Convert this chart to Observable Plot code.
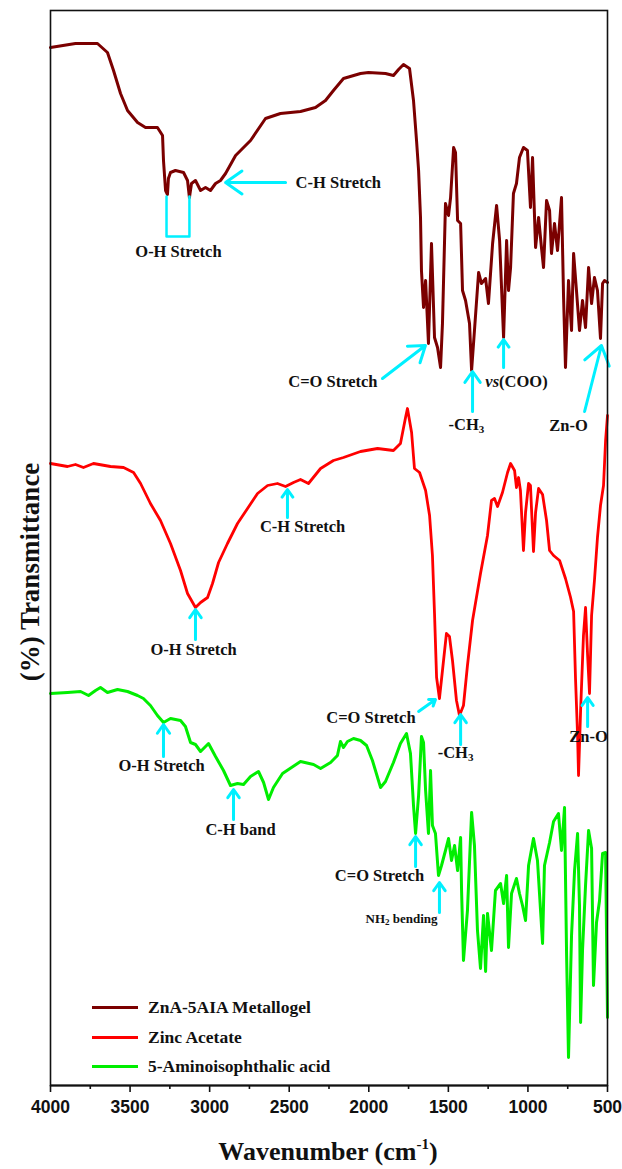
<!DOCTYPE html>
<html><head><meta charset="utf-8">
<script src="https://cdn.jsdelivr.net/npm/d3@7"></script>
<script src="https://cdn.jsdelivr.net/npm/@observablehq/plot@0.6"></script>
<style>
body{margin:0;background:#fff;}
#wrap{position:relative;width:622px;height:1169px;font-family:"Liberation Serif","Times New Roman",serif;color:#111;}
#wrap svg{position:absolute;left:0;top:0;}
.ov{position:absolute;font-weight:bold;white-space:nowrap;}
#ylab{font-size:27px;left:30px;top:572px;transform:translate(-50%,-50%) rotate(-90deg);}
#xlab{font-size:26px;left:328px;top:1152px;transform:translate(-50%,-50%);}
#xlab sup{font-size:15px;vertical-align:11px;line-height:0;}
.lg{position:absolute;left:92px;font-size:17.5px;font-weight:bold;white-space:nowrap;line-height:20px;}
.lg span.sw{display:inline-block;width:46px;height:3px;vertical-align:middle;margin-right:10px;position:relative;top:-1px;}
</style></head><body><div id="wrap"></div>
<script>
// Series: [wavenumber (cm-1), transmittance (offset, a.u.)]
const metallogel = [[4000,103.8],[3843,104.2],[3705,104.2],[3642,103.3],[3604,101.5],[3560,99.2],[3516,97.5],[3453,96.3],[3403,95.8],[3328,95.8],[3296,95.0],[3290,92.5],[3277,89.5],[3265,89.1],[3259,90.7],[3246,91.3],[3215,91.5],[3164,91.3],[3139,90.5],[3127,88.8],[3114,90.2],[3089,90.5],[3057,89.5],[3026,89.8],[2995,89.5],[2963,90.2],[2932,90.5],[2900,91.2],[2837,93.0],[2743,94.5],[2649,96.7],[2555,97.2],[2429,97.4],[2335,97.8],[2272,98.5],[2222,99.5],[2159,100.7],[2052,101.2],[2002,101.3],[1895,101.2],[1845,101.0],[1813,101.6],[1782,102.1],[1744,101.7],[1719,98.5],[1700,94.5],[1687,91.5],[1675,86.8],[1669,81.5],[1656,77.8],[1643,80.5],[1625,74.2],[1606,84.2],[1587,74.8],[1568,73.8],[1549,71.8],[1537,76.2],[1518,88.2],[1499,87.0],[1486,88.8],[1467,93.8],[1455,93.3],[1442,86.5],[1423,86.2],[1411,79.5],[1392,78.5],[1367,76.2],[1354,71.5],[1336,75.5],[1310,81.3],[1292,80.2],[1266,80.7],[1248,78.2],[1222,84.2],[1197,88.0],[1178,84.5],[1153,74.8],[1134,84.5],[1122,79.5],[1109,81.8],[1091,89.2],[1072,90.2],[1053,92.8],[1028,93.8],[1003,93.5],[984,87.8],[971,92.8],[952,83.8],[933,86.8],[915,83.8],[902,81.8],[883,88.5],[864,87.5],[852,83.2],[833,86.2],[814,83.5],[789,88.8],[776,78.8],[764,71.8],[745,80.5],[726,75.5],[713,83.2],[695,79.5],[676,75.5],[657,78.5],[638,75.8],[619,81.8],[600,78.2],[582,80.8],[563,79.5],[544,74.7],[531,80.2],[519,80.5],[500,80.3]];

const zincAcetate = [[4000,62.2],[3893,61.9],[3843,62.1],[3793,61.8],[3730,62.2],[3623,61.9],[3541,61.8],[3478,61.3],[3434,60.2],[3372,58.2],[3309,56.5],[3246,54.2],[3183,51.5],[3139,49.2],[3089,47.8],[3057,48.3],[3013,48.8],[2982,50.2],[2944,52.3],[2888,54.2],[2825,56.2],[2762,57.7],[2699,59.2],[2636,60.0],[2574,60.2],[2523,59.9],[2473,60.3],[2429,60.6],[2379,60.2],[2303,61.7],[2222,62.5],[2159,62.8],[2052,63.4],[1945,63.7],[1845,63.5],[1801,64.2],[1769,66.8],[1757,67.7],[1731,65.3],[1713,61.7],[1681,61.3],[1643,59.5],[1618,57.0],[1600,53.0],[1587,47.2],[1574,40.8],[1556,38.7],[1537,41.5],[1512,45.2],[1493,44.9],[1474,42.5],[1449,38.5],[1430,37.0],[1405,38.0],[1380,42.0],[1348,46.5],[1298,51.2],[1254,55.0],[1229,58.5],[1210,58.7],[1191,57.9],[1160,59.3],[1128,61.3],[1109,62.2],[1084,61.5],[1072,59.8],[1059,60.8],[1047,59.5],[1028,53.5],[1015,57.3],[996,60.2],[984,60.0],[977,57.5],[965,53.4],[952,57.3],[933,59.7],[908,59.1],[883,56.5],[864,53.5],[839,53.0],[801,52.5],[764,50.7],[732,48.8],[713,47.4],[701,40.7],[688,35.0],[682,31.0],[669,37.5],[651,45.0],[638,47.8],[625,43.0],[613,39.2],[600,47.0],[582,50.5],[563,54.8],[544,58.0],[525,60.0],[512,64.5],[500,67.0]];

const aminoisophthalic = [[4000,39.2],[3893,39.3],[3811,39.4],[3761,39.0],[3717,39.5],[3686,39.8],[3642,39.3],[3579,39.6],[3516,39.4],[3453,39.0],[3416,38.7],[3372,38.0],[3328,37.0],[3290,36.3],[3246,36.7],[3183,36.5],[3152,35.9],[3120,34.3],[3089,34.1],[3057,33.4],[3007,34.2],[2963,32.9],[2913,31.5],[2869,30.0],[2825,30.2],[2787,30.1],[2743,30.9],[2693,31.4],[2661,30.3],[2630,28.6],[2599,29.8],[2542,31.2],[2429,32.4],[2347,32.1],[2303,31.7],[2240,32.3],[2197,33.0],[2178,34.4],[2159,33.8],[2134,34.4],[2096,34.7],[2052,34.5],[2014,34.0],[1977,32.5],[1926,29.8],[1895,30.4],[1845,32.3],[1801,34.2],[1763,35.2],[1738,33.2],[1719,28.0],[1706,25.2],[1687,29.0],[1669,34.9],[1656,34.3],[1643,29.5],[1625,25.2],[1612,31.5],[1600,26.0],[1581,25.2],[1562,21.0],[1543,22.0],[1518,23.5],[1499,24.7],[1480,22.5],[1461,24.0],[1442,21.5],[1423,24.8],[1417,19.5],[1405,12.5],[1380,17.5],[1354,27.3],[1336,24.0],[1317,15.5],[1298,11.7],[1279,17.0],[1266,11.4],[1254,17.2],[1229,13.5],[1204,19.5],[1172,20.2],[1153,18.2],[1134,21.0],[1122,13.8],[1103,19.2],[1072,20.7],[1053,19.2],[1034,18.0],[1015,16.5],[996,22.0],[965,24.7],[940,22.5],[908,14.2],[896,22.0],[864,24.3],[839,26.4],[808,27.2],[789,23.5],[770,27.8],[757,13.0],[745,2.8],[726,15.0],[707,21.5],[688,25.2],[676,18.0],[669,6.3],[657,13.5],[638,20.0],[619,25.5],[600,23.7],[588,10.0],[569,16.3],[550,18.5],[531,23.2],[512,23.3],[500,6.8]];

const seriesNames = ["ZnA-5AIA Metallogel","Zinc Acetate","5-Aminoisophthalic acid"];
const seriesColors = ["#7b0000","#ff0000","#00ee00"];

const majorTicks = [4000,3500,3000,2500,2000,1500,1000,500];
const minorTicks = [3750,3250,2750,2250,1750,1250,750];

// Band annotations: arrows [x1,y1,x2,y2] in data units
const bandArrows = [
  [2523,90.3,2900,90.3],
  [1914,70.7,1644,74.0],
  [1348,67.4,1348,71.4],
  [1153,71.8,1153,74.6],
  [644,67.4,538,74.0],
  [2511,56.8,2511,59.6],
  [3089,44.6,3089,47.6],
  [1687,37.4,1581,38.6],
  [1423,34.1,1423,37.1],
  [625,35.9,625,38.8],
  [3290,32.9,3290,36.1],
  [2850,26.6,2850,29.6],
  [1706,21.9,1706,24.9],
  [1556,17.3,1556,20.3]
];
const ohBracket = [[3271,88.9],[3271,84.9],[3127,84.9],[3127,88.9]];
// labels: [x, y, text, anchor]
const bandLabels = [
  [3196,83.4,"O-H Stretch","middle"],
  [2460,90.3,"C-H Stretch","start"],
  [1945,70.4,"C=O Stretch","end"],
  [1386,66.1,"-CH3","middle"],
  [1072,70.4,"vs(COO)","middle"],
  [745,66.0,"Zn-O","middle"],
  [2416,55.9,"C-H Stretch","middle"],
  [3101,43.6,"O-H Stretch","middle"],
  [1706,36.8,"C=O Stretch","end"],
  [1455,33.3,"-CH3","middle"],
  [619,34.9,"Zn-O","middle"],
  [3302,32.0,"O-H Stretch","middle"],
  [2806,25.6,"C-H band","middle"],
  [1933,21.0,"C=O Stretch","middle"],
  [1794,16.7,"NH2 bending","middle"]
];

const serif = "Liberation Serif, Times New Roman, serif";
const cyan = "#00f0ff";
const labelsBig = bandLabels.filter(d => d[2] !== "NH2 bending");
const labelsSmall = bandLabels.filter(d => d[2] === "NH2 bending");
const lblOpts = {x: d => d[0], y: d => d[1], text: d => d[2], fontFamily: serif, fontWeight: "bold", fontSize: 16.5, fill: "#111"};

const chart = Plot.plot({
  width: 622, height: 1169,
  marginLeft: 50, marginRight: 15, marginTop: 10, marginBottom: 84,
  x: {domain: [4000, 500], label: null},
  y: {domain: [0, 107.5], label: null, axis: null},
  marks: [
    Plot.line(metallogel, {x: d => d[0], y: d => d[1], stroke: seriesColors[0], strokeWidth: 3, strokeLinejoin: "round"}),
    Plot.line(zincAcetate, {x: d => d[0], y: d => d[1], stroke: seriesColors[1], strokeWidth: 2.8, strokeLinejoin: "round"}),
    Plot.line(aminoisophthalic, {x: d => d[0], y: d => d[1], stroke: seriesColors[2], strokeWidth: 3, strokeLinejoin: "round"}),
    Plot.line(ohBracket, {x: d => d[0], y: d => d[1], stroke: cyan, strokeWidth: 2.5}),
    Plot.arrow(bandArrows, {x1: d => d[0], y1: d => d[1], x2: d => d[2], y2: d => d[3], stroke: cyan, strokeWidth: 3, headLength: 11, headAngle: 70}),
    Plot.text(labelsBig.filter(d => d[3] === "middle"), {...lblOpts, textAnchor: "middle"}),
    Plot.text(labelsBig.filter(d => d[3] === "start"), {...lblOpts, textAnchor: "start"}),
    Plot.text(labelsBig.filter(d => d[3] === "end"), {...lblOpts, textAnchor: "end"}),
    Plot.text(labelsSmall, {...lblOpts, textAnchor: "middle", fontSize: 13}),
    Plot.frame({stroke: "#111", strokeWidth: 1.6}),
    Plot.ruleY([0], {stroke: "#111", strokeWidth: 2.2}),
    Plot.axisX({ticks: majorTicks, tickSize: 7, tickPadding: 8, tickFormat: d => String(d), fontSize: 17.5, fontWeight: "bold", fontFamily: "Liberation Sans, Arial, sans-serif", fill: "#111", stroke: "#111", strokeWidth: 1.6, label: null}),
    Plot.axisX({ticks: minorTicks, tickSize: 4, tickFormat: () => "", stroke: "#111", strokeWidth: 1.6, label: null})
  ]
});

// subscript / italic post-processing of band labels
chart.querySelectorAll("text").forEach(t => {
  const s = t.textContent;
  const NS = "http://www.w3.org/2000/svg";
  const ts = (txt, attrs) => { const e = document.createElementNS(NS, "tspan"); e.textContent = txt; for (const k in attrs) e.setAttribute(k, attrs[k]); return e; };
  if (s === "-CH3") {
    t.textContent = "";
    t.appendChild(ts("-CH", {}));
    t.appendChild(ts("3", {"font-size": "11", dy: "3"}));
  } else if (s === "NH2 bending") {
    t.textContent = "";
    t.appendChild(ts("NH", {}));
    t.appendChild(ts("2", {"font-size": "9", dy: "2"}));
    t.appendChild(ts(" bending", {dy: "-2"}));
  } else if (s === "vs(COO)") {
    t.textContent = "";
    t.appendChild(ts("vs", {"font-style": "italic"}));
    t.appendChild(ts("(COO)", {}));
  }
});

const wrap = document.getElementById("wrap");
wrap.appendChild(chart);

const yl = document.createElement("div"); yl.id = "ylab"; yl.className = "ov"; yl.textContent = "(%) Transmittance"; wrap.appendChild(yl);
const xl = document.createElement("div"); xl.id = "xlab"; xl.className = "ov"; xl.innerHTML = "Wavenumber (cm<sup>-1</sup>)"; wrap.appendChild(xl);

const legendTops = [997, 1027, 1056];
seriesNames.forEach((name, i) => {
  const r = document.createElement("div");
  r.className = "lg";
  r.style.top = legendTops[i] + "px";
  r.innerHTML = `<span class="sw" style="background:${seriesColors[i]}"></span>${name}`;
  wrap.appendChild(r);
});
</script></body></html>
